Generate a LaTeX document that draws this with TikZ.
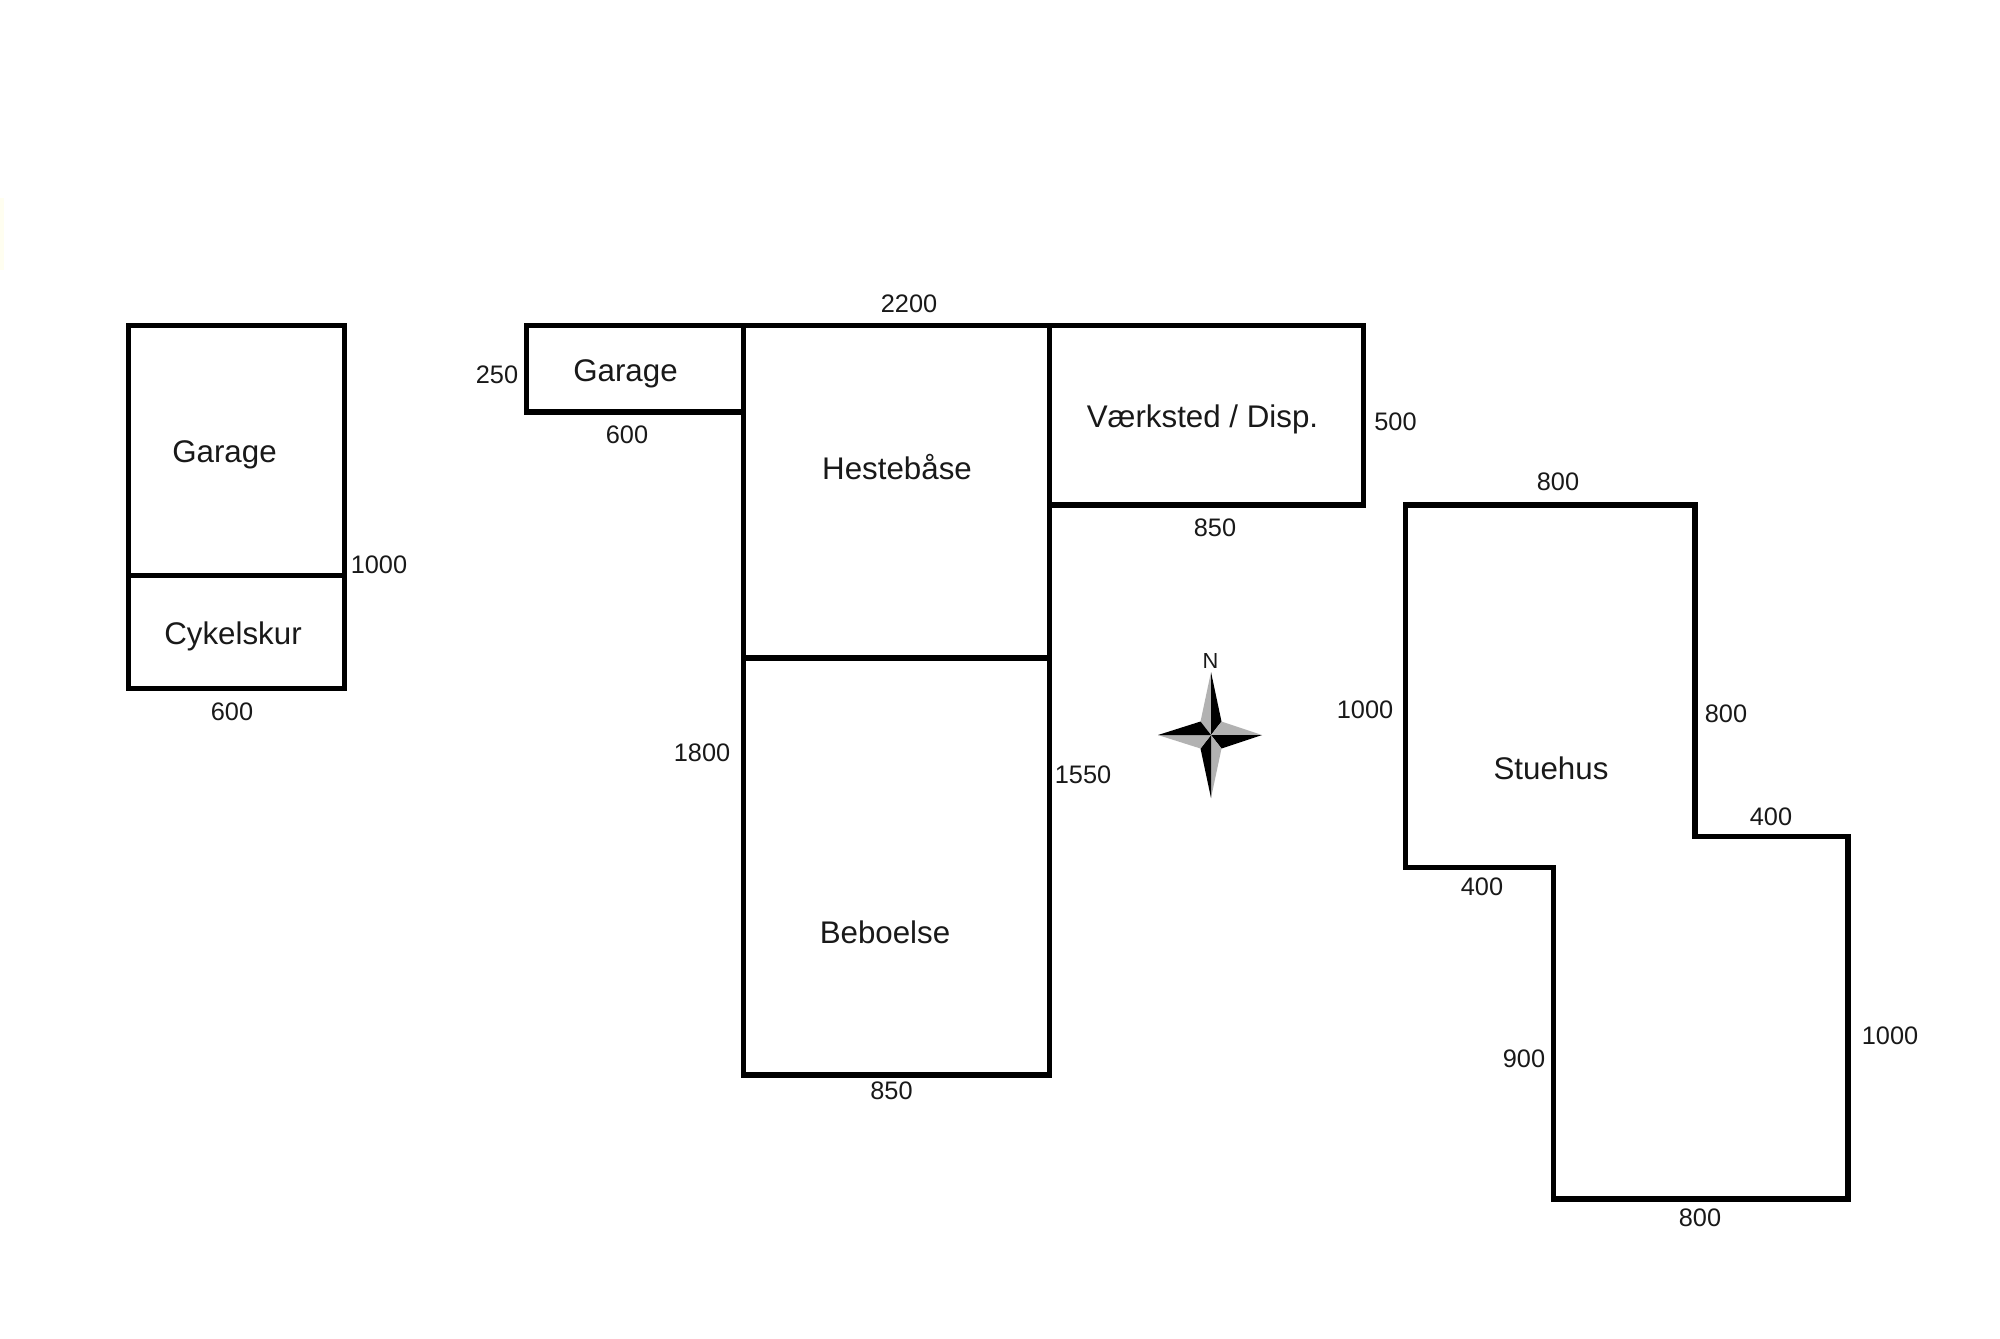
\documentclass[tikz,border=0pt]{standalone}
\usepackage{fontspec}
\setmainfont{Liberation Sans}
\tikzset{
  wall/.style={line width=1.5pt,line join=miter},
  roomlabel/.style={font=\fontsize{8.9}{10}\selectfont,text=black!90,inner sep=0pt,text height=6.4pt,text depth=0pt},
  sizelabel/.style={font=\fontsize{7.2}{9}\selectfont,text=black!90,inner sep=0pt,text height=5.2pt,text depth=0pt}
}
\begin{document}
\begin{tikzpicture}[x=0.01cm,y=-0.01cm]
  \useasboundingbox (0,0) rectangle (2000,1338);
  \fill[white] (0,0) rectangle (2000,1338);
  \fill[yellow!6] (0,198) rectangle (4,270);

  % left building
  \draw[wall] (128.8,325.3) rectangle (344.4,688.8);
  \draw[wall] (128.8,575.3) -- (344.4,575.3);

  % middle building
  \draw[wall] (526.8,325.3) rectangle (743.6,412);
  \draw[wall] (743.6,325.3) rectangle (1049.7,658);
  \draw[wall] (743.6,658) rectangle (1049.7,1075);
  \draw[wall] (1049.7,325.3) rectangle (1363.5,505);

  % right building
  \draw[wall] (1405.6,505) -- (1695,505) -- (1695,836.7) -- (1848,836.7) -- (1848,1199)
    -- (1553.6,1199) -- (1553.6,867.3) -- (1405.6,867.3) -- cycle;

  % compass
  \coordinate (c) at (1211,735);
  \fill[black!30] (c) -- (1211,672) -- (1200.5,721.5) -- cycle;
  \fill[black] (c) -- (1211,672) -- (1221.5,721.5) -- cycle;
  \fill[black!30] (c) -- (1262,735) -- (1221.5,721.5) -- cycle;
  \fill[black] (c) -- (1262,735) -- (1221.5,748.5) -- cycle;
  \fill[black!30] (c) -- (1211,798) -- (1221.5,748.5) -- cycle;
  \fill[black] (c) -- (1211,798) -- (1200.5,748.5) -- cycle;
  \fill[black!30] (c) -- (1158,735) -- (1200.5,748.5) -- cycle;
  \fill[black] (c) -- (1158,735) -- (1200.5,721.5) -- cycle;

  \node[roomlabel] (garageA) at (224.5,451.5) {Garage};
  \node[roomlabel] (cykel) at (233,633) {Cykelskur};
  \node[roomlabel] (garageB) at (625.5,370) {Garage};
  \node[roomlabel] (heste) at (897,468) {Hestebåse};
  \node[roomlabel] (vaerk) at (1202.5,416) {Værksted / Disp.};
  \node[roomlabel] (bebo) at (885,932) {Beboelse};
  \node[roomlabel] (stue) at (1551,768) {Stuehus};

  \node[sizelabel] (a1000) at (379,564) {1000};
  \node[sizelabel] (a600) at (232,711) {600};
  \node[sizelabel] (b250) at (497,374) {250};
  \node[sizelabel] (b600) at (627,434.5) {600};
  \node[sizelabel] (b2200) at (909,303) {2200};
  \node[sizelabel] (b500) at (1395.5,421) {500};
  \node[sizelabel] (b850) at (1215,527) {850};
  \node[sizelabel] (b1800) at (702,752.5) {1800};
  \node[sizelabel] (b1550) at (1083,774) {1550};
  \node[sizelabel] (c850) at (891.5,1090.5) {850};
  \node[sizelabel] (d800) at (1558,481.5) {800};
  \node[sizelabel] (d1000) at (1365,709) {1000};
  \node[sizelabel] (e800) at (1726,713) {800};
  \node[sizelabel] (e400) at (1771,816) {400};
  \node[sizelabel] (f400) at (1482,886.5) {400};
  \node[sizelabel] (f900) at (1524,1058) {900};
  \node[sizelabel] (g1000) at (1890,1035) {1000};
  \node[sizelabel] (g800) at (1700,1217) {800};
  \node[sizelabel,font=\fontsize{6.2}{7}\selectfont,text height=4.4pt] (north) at (1210.5,661) {N};
\end{tikzpicture}
\end{document}
